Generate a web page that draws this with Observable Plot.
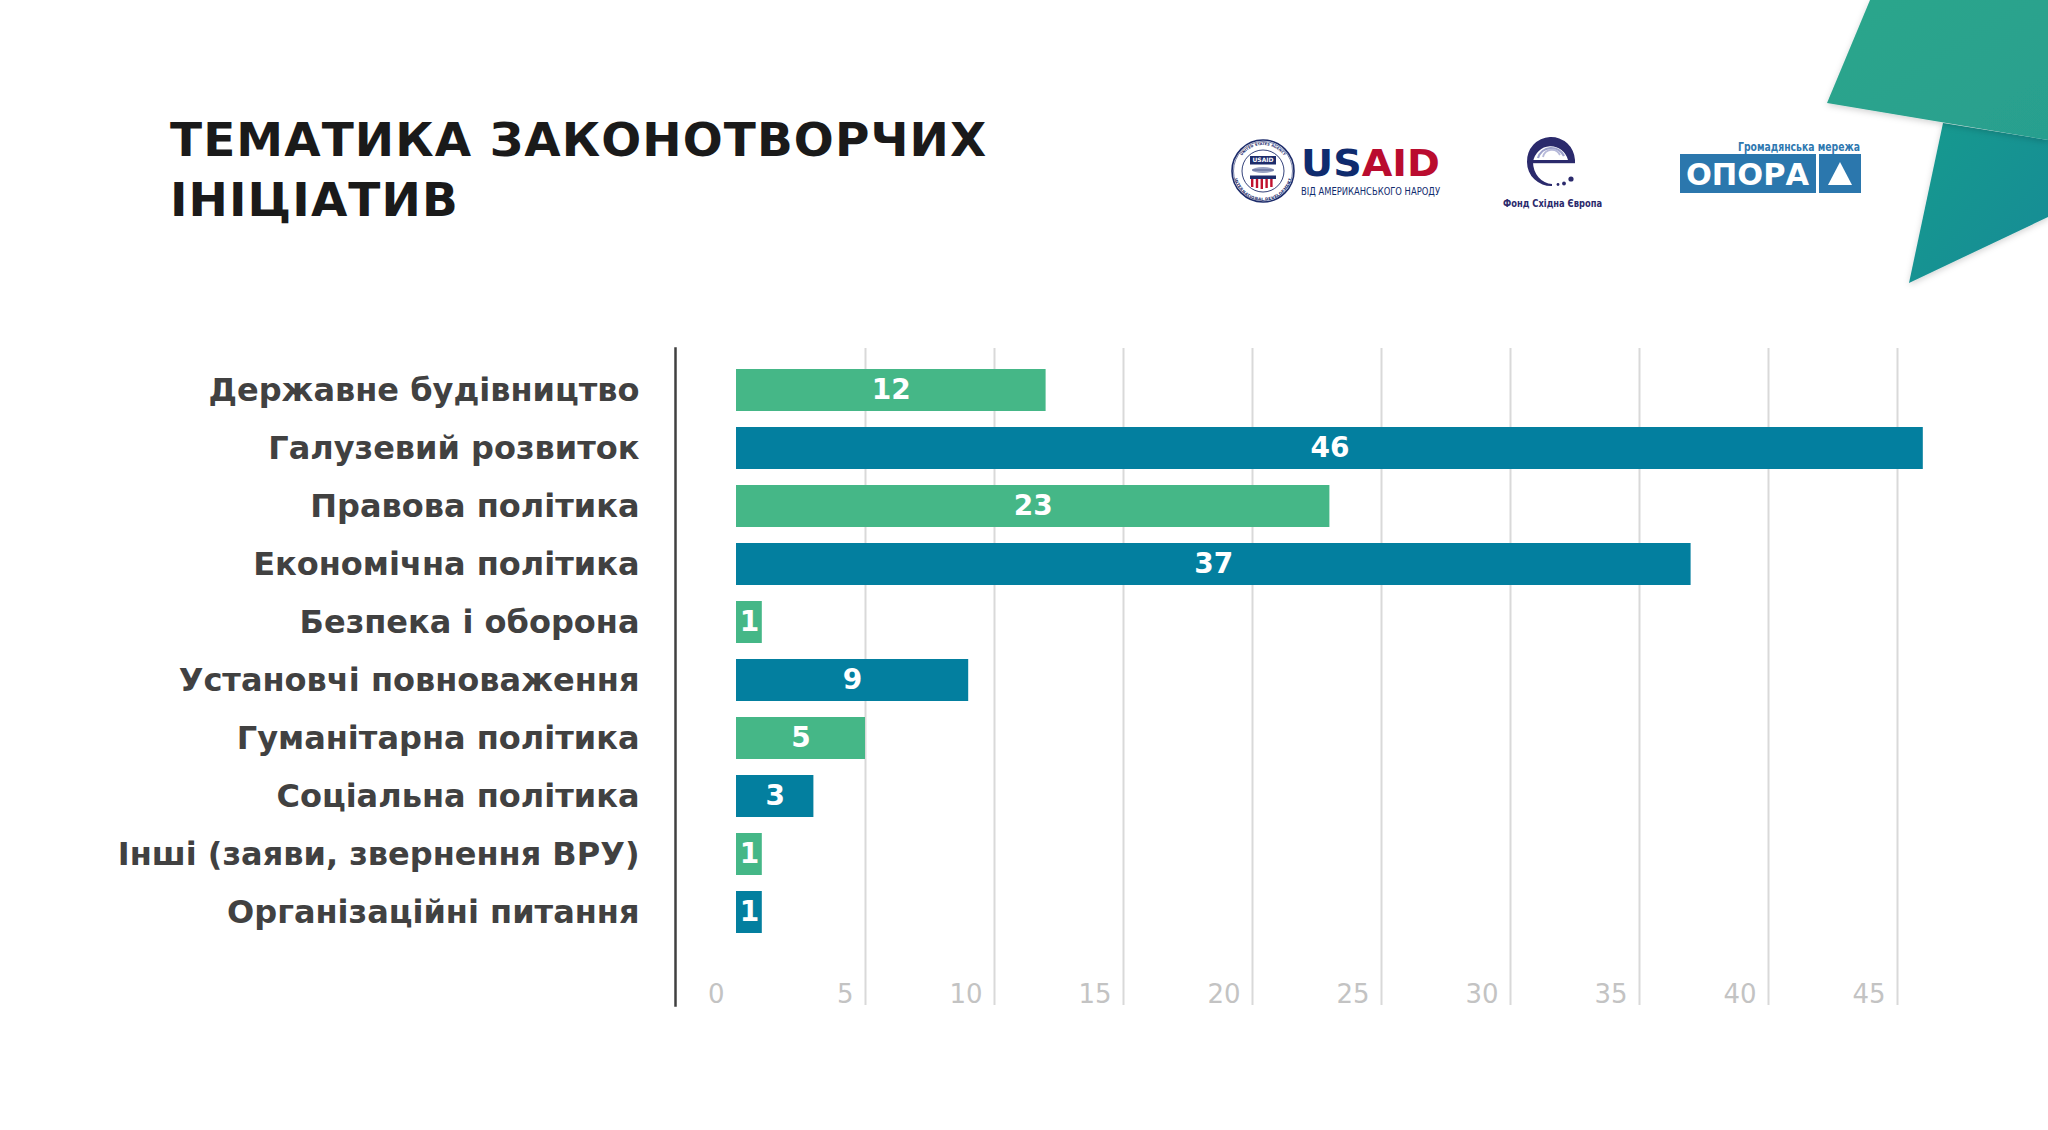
<!DOCTYPE html>
<html>
<head>
<meta charset="utf-8">
<script src="https://cdn.jsdelivr.net/npm/d3@7"></script>
<script src="https://cdn.jsdelivr.net/npm/@observablehq/plot@0.6"></script>
<style>
  html, body { margin: 0; padding: 0; background: #ffffff; }
  #page { position: relative; width: 2048px; height: 1130px; overflow: hidden; background: #ffffff; font-family: "DejaVu Sans", sans-serif; }
  #chart { position: absolute; left: 0; top: 300px; }
  #chart svg { background: transparent; }
  #decor { position: absolute; left: 0; top: 0; z-index: 2; }
</style>
</head>
<body>
<div id="page">
  <div id="chart"></div>
  <svg id="decor" width="2048" height="300" viewBox="0 0 2048 300" xmlns="http://www.w3.org/2000/svg">
    <defs>
      <linearGradient id="gLow" x1="0" y1="0" x2="1" y2="1">
        <stop offset="0" stop-color="#199a8e"/>
        <stop offset="1" stop-color="#118b96"/>
      </linearGradient>
      <linearGradient id="gUp" x1="0" y1="0" x2="1" y2="1">
        <stop offset="0" stop-color="#2ca68b"/>
        <stop offset="1" stop-color="#289f8f"/>
      </linearGradient>
      <filter id="sh" x="-20%" y="-20%" width="140%" height="140%">
        <feDropShadow dx="0" dy="2" stdDeviation="3" flood-color="#000" flood-opacity="0.18"/>
      </filter>
    </defs>
    <!-- title -->
    <text x="170" y="156" font-family="DejaVu Sans" font-weight="bold" font-size="47" letter-spacing="1.1" fill="#1a1a1a">ТЕМАТИКА ЗАКОНОТВОРЧИХ</text>
    <text x="170" y="216" font-family="DejaVu Sans" font-weight="bold" font-size="47" letter-spacing="1.1" fill="#1a1a1a">ІНІЦІАТИВ</text>

    <!-- decorative corner shapes -->
    <polygon points="1943,123 2048,140 2048,217 1909,283" fill="url(#gLow)" filter="url(#sh)"/>
    <polygon points="1870,0 2048,0 2048,140 1827,103" fill="url(#gUp)" filter="url(#sh)"/>

    <!-- USAID seal -->
    <g transform="translate(1263,171)">
      <defs>
        <path id="ringTop" d="M -26,0 A 26,26 0 0 1 26,0"/>
        <path id="ringBot" d="M -26,0 A 26,26 0 0 0 26,0"/>
      </defs>
      <circle r="31" fill="#ffffff" stroke="#1d2c6b" stroke-width="1.6"/>
      <circle r="29.5" fill="none" stroke="#1d2c6b" stroke-width="0.6"/>
      <circle r="21" fill="#ffffff" stroke="#1d2c6b" stroke-width="0.9"/>
      <text font-family="DejaVu Sans" font-size="3.6" font-weight="bold" fill="#1d2c6b"><textPath href="#ringTop" startOffset="50%" text-anchor="middle">UNITED STATES AGENCY</textPath></text>
      <text font-family="DejaVu Sans" font-size="3.8" font-weight="bold" fill="#1d2c6b" dy="3.5"><textPath href="#ringBot" startOffset="50%" text-anchor="middle">INTERNATIONAL DEVELOPMENT</textPath></text>
      <rect x="-13" y="-15" width="26" height="8.5" fill="#1d2c6b"/>
      <text x="0" y="-8.6" font-family="DejaVu Sans" font-size="6" font-weight="bold" fill="#ffffff" text-anchor="middle">USAID</text>
      <ellipse cx="0" cy="-1" rx="11" ry="3" fill="#9aa3c4"/>
      <path d="M -11,-1 L 11,-1" stroke="#1d2c6b" stroke-width="0.6"/>
      <rect x="-13" y="4.5" width="26" height="3.5" fill="#1d2c6b"/>
      <g fill="#c1122f">
        <rect x="-12" y="8" width="2.4" height="8"/>
        <rect x="-7.2" y="8" width="2.4" height="9"/>
        <rect x="-2.4" y="8" width="2.4" height="10"/>
        <rect x="2.4" y="8" width="2.4" height="9"/>
        <rect x="7.2" y="8" width="2.4" height="8"/>
      </g>
    </g>
    <text x="1301" y="176" font-family="DejaVu Sans" font-weight="bold" font-size="37" textLength="139" lengthAdjust="spacingAndGlyphs"><tspan fill="#0f2b6e">US</tspan><tspan fill="#ba0c2f">AID</tspan></text>
    <text x="1301" y="195" font-family="DejaVu Sans" font-size="10.5" fill="#0f2b6e" textLength="139" lengthAdjust="spacingAndGlyphs">ВІД АМЕРИКАНСЬКОГО НАРОДУ</text>

    <!-- Фонд Східна Європа logo -->
    <g>
      <path d="M 1527,162 A 24,24 0 0 1 1575,160 L 1568,160 A 18,19 0 0 0 1533,162 Z" fill="#2b2a6c"/>
      <path d="M 1538,158 A 14,14 0 0 1 1564,156" fill="none" stroke="#9ea2cb" stroke-width="2.2"/>
      <path d="M 1543,157 A 9,9 0 0 1 1560,155" fill="none" stroke="#b7bada" stroke-width="1.8"/>
      <rect x="1530" y="160" width="45" height="3.2" fill="#2b2a6c"/>
      <path d="M 1527,162 A 24,24 0 0 0 1552,186 L 1552,184 A 20,22 0 0 1 1533,162 Z" fill="#2b2a6c"/>
      <circle cx="1558" cy="184.5" r="1.4" fill="#2b2a6c"/>
      <circle cx="1564" cy="183.5" r="1.9" fill="#2b2a6c"/>
      <circle cx="1571" cy="179" r="2.6" fill="#2b2a6c"/>
    </g>
    <text x="1503" y="207" font-family="DejaVu Sans" font-weight="bold" font-size="10" fill="#2b2a6c" textLength="99" lengthAdjust="spacingAndGlyphs">Фонд Східна Європа</text>

    <!-- ОПОРА logo -->
    <text x="1738" y="151" font-family="DejaVu Sans" font-weight="bold" font-size="11.5" fill="#2e78b0" textLength="122" lengthAdjust="spacingAndGlyphs">Громадянська мережа</text>
    <rect x="1680" y="154" width="136" height="39" fill="#2b77ad"/>
    <text x="1686" y="185" font-family="DejaVu Sans" font-weight="bold" font-size="31" fill="#ffffff" textLength="123" lengthAdjust="spacingAndGlyphs">ОПОРА</text>
    <rect x="1819" y="154" width="42" height="39" fill="#2b77ad"/>
    <polygon points="1840,162 1828,185 1852,185" fill="#ffffff"/>
  </svg>
</div>
<script>
// ---- data ----
const categories = [
  "Державне будівництво",
  "Галузевий розвиток",
  "Правова політика",
  "Економічна політика",
  "Безпека і оборона",
  "Установчі повноваження",
  "Гуманітарна політика",
  "Соціальна політика",
  "Інші (заяви, звернення ВРУ)",
  "Організаційні питання"
];
const values = [12, 46, 23, 37, 1, 9, 5, 3, 1, 1];
const groups = ["g", "b", "g", "b", "g", "b", "g", "b", "g", "b"];
const xTicks = [0, 5, 10, 15, 20, 25, 30, 35, 40, 45];
const gridTicks = [5, 10, 15, 20, 25, 30, 35, 40, 45];
const groupColors = ["#45b787", "#037f9f"];

const data = categories.map((c, i) => ({cat: c, value: values[i], group: groups[i]}));

const labelFont = {fontFamily: "DejaVu Sans", fontWeight: "bold"};

const plot = Plot.plot({
  width: 2048,
  height: 730,
  marginLeft: 675,
  marginRight: 100,
  marginTop: 48,
  marginBottom: 25,
  style: {background: "transparent", fontFamily: "DejaVu Sans"},
  x: {domain: [0, 45], range: [736, 736 + 45 * 25.8], axis: null},
  y: {domain: categories, range: [61, 641], paddingInner: 0.276, paddingOuter: 0.138, axis: null},
  color: {domain: ["g", "b"], range: groupColors},
  marks: [
    Plot.gridX(gridTicks, {stroke: "#d9d9d9", strokeOpacity: 1, strokeWidth: 2}),
    Plot.frame({anchor: "left", stroke: "#404040", strokeWidth: 2.5}),
    Plot.ruleY(data, {y: "cat", x2: 0, stroke: "#404040", strokeWidth: 2.5}),
    Plot.barX(data, {x: "value", y: "cat", fill: "group"}),
    Plot.text(data, {
      x: d => d.value / 2, y: "cat", text: d => String(d.value),
      fill: "#ffffff", fontSize: 28, ...labelFont
    }),
    Plot.axisY({
      anchor: "left", tickSize: 0, tickPadding: 36,
      fontSize: 32, fill: "#414141", color: "#414141", letterSpacing: 2.0,
      ...labelFont, label: null
    }),
    Plot.text(xTicks, {
      x: d => d, frameAnchor: "bottom", dy: -11, dx: -12,
      textAnchor: "end", lineAnchor: "middle",
      text: d => String(d), fill: "#c3c3c3", fontSize: 26, fontFamily: "DejaVu Sans"
    })
  ]
});
document.getElementById("chart").appendChild(plot);
</script>
</body>
</html>
